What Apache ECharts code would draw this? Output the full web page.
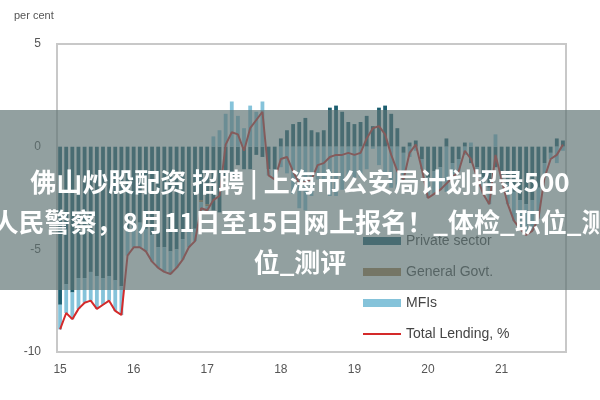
<!DOCTYPE html>
<html><head><meta charset="utf-8">
<script src="https://cdn.jsdelivr.net/npm/echarts@6/dist/echarts.min.js"></script>
<style>html,body{margin:0;padding:0;background:#fff}#c{width:600px;height:400px}</style>
</head><body><div id="c"></div>
<script>
const yearLabels = ['15','16','17','18','19','20','21'];
const total = [-8.9,-8.1,-8.4,-7.9,-7.6,-7.5,-7.9,-7.7,-7.5,-8.0,-8.2,-5.3,
 -4.9,-4.9,-5.1,-5.6,-5.9,-6.1,-6.2,-5.9,-5.5,-4.9,-4.6,-3.0,
 -3.1,-2.6,-2.4,0.1,0.7,0.6,-0.2,0.9,1.3,1.7,-1.4,-1.6,
 -0.6,-0.5,-1.2,-1.8,-1.7,-1.6,-0.9,-0.8,-0.5,-0.4,-0.4,-0.3,
 -0.4,-0.3,0.4,0.9,1.0,0.6,-0.4,-1.2,-1.6,
 -0.3,0.1,-1.1,-2.5,-2.3,-2.1,-1.8,-1.5,-1.2,-0.2,-0.6,-1.5,-2.3,-2.8,-0.4,-1.6,-2.8,-3.6,-4.0,-4.3,-4.1,-3.5,-1.5,-0.6,-0.4,0.1];
const privateSector = [-7.7,-6.7,-7.1,-6.4,-6.4,-6.1,-6.3,-6.4,-6.3,-6.5,-6.8,-4.0,
 -3.9,-3.7,-4.0,-4.3,-4.9,-4.9,-5.1,-5.0,-4.5,-4.1,-4.0,-2.6,
 -2.8,-3.1,-3.2,-1.5,-1.5,-0.9,-1.1,-1.1,-0.4,-0.5,-1.1,-1.1,
 0.4,0.8,1.1,1.2,1.4,0.8,0.7,0.8,1.9,2.0,1.7,1.2,
 1.1,1.2,1.5,1.0,1.9,2.0,1.6,0.9,-0.3,
 0.2,0.3,-0.6,-1.5,-1.2,-1.0,0.4,-0.8,-0.6,0.2,-0.8,-1.0,-1.5,-2.0,-1.0,-1.2,-1.8,-2.2,-2.6,-2.8,-2.6,-2.0,-0.8,-0.3,0.4,0.3];
const generalGovt = [0,0,0,0,0,0,0,0,0,0,0,0, 0,0,0,0,0,0,0,0,0,0,0,-0.1,
 -0.1,0,0,0,0,0,0,0,0,0,0,0, 0,0,0,0,0,0,0,0,0,0,0,0, 0,0,0,0,0,0,0,0,0,
 0,0,0,0,0,0,0,0,0,0,0,0,0,0,0,0,0,0,0,0,0,0,0,0,0,0];
const mfis = [-1.2,-1.4,-1.3,-1.5,-1.2,-1.4,-1.6,-1.3,-1.2,-1.5,-1.4,-1.3,
 -1.0,-1.2,-1.1,-1.3,-1.0,-1.2,-1.1,-0.9,-1.0,-0.8,-0.6,-0.4,
 -0.3,0.5,0.8,1.6,2.2,1.5,0.9,2.0,1.7,2.2,-0.3,-0.5,
 -1.0,-1.3,-2.3,-3.0,-3.1,-2.4,-1.6,-1.6,-2.4,-2.4,-2.1,-1.5,
 -1.5,-1.5,-1.1,-0.1,-0.9,-1.4,-2.0,-2.1,-1.3,
 -0.5,-0.2,-0.5,-1.0,-1.1,-1.1,-2.2,-0.7,-0.6,-0.4,0.2,-0.5,-0.8,-0.8,0.6,-0.4,-1.0,-1.4,-1.4,-1.5,-1.5,-1.5,-0.7,-0.3,-0.8,-0.2];
const months = total.map((v,i)=>String(i));
const chart = echarts.init(document.getElementById('c'));
const font = 'Liberation Sans';
const cjk = 'Noto Sans CJK SC';
chart.setOption({
  animation:false,
  textStyle:{fontFamily:font},
  grid:{left:57,right:34,top:44,bottom:48,show:true,borderColor:'#c8c8c8',borderWidth:2},
  xAxis:{type:'category',data:months,axisLine:{show:false},axisTick:{show:false},
    axisLabel:{color:'#555',fontSize:12,margin:12,interval:(i)=>i%12===0,formatter:(v)=>yearLabels[Number(v)/12]}},
  yAxis:{type:'value',min:-10,max:5,interval:5,splitLine:{show:false},axisLine:{show:false},axisTick:{show:false},
    axisLabel:{color:'#555',fontSize:12,margin:16}},
  legend:{orient:'vertical',left:358,top:229,itemGap:17,itemWidth:38,itemHeight:8,
    textStyle:{color:'#444',fontSize:14,fontFamily:font},
    data:[{name:'Private sector',icon:'rect'},{name:'General Govt.',icon:'rect'},{name:'MFIs',icon:'rect'},{name:'Total Lending, %',icon:'path://M0,4L38,4L38,6L0,6Z'}]},
  graphic:[
    {type:'text',left:14,top:10,style:{text:'per cent',fill:'#555',fontSize:11,fontFamily:font}},
    {type:'rect',shape:{x:0,y:110,width:600,height:180},style:{fill:'rgba(95,115,115,0.68)'},z:100},
    {type:'text',x:300,y:182,style:{text:'佛山炒股配资 招聘 | 上海市公安局计划招录500',fill:'#fff',fontSize:26,fontWeight:'bold',fontFamily:cjk,align:'center',verticalAlign:'middle'},z:101},
    {type:'text',x:300,y:222,style:{text:'人民警察，8月11日至15日网上报名！_体检_职位_测',fill:'#fff',fontSize:26,fontWeight:'bold',fontFamily:cjk,align:'center',verticalAlign:'middle'},z:101},
    {type:'text',x:300,y:262,style:{text:'位_测评',fill:'#fff',fontSize:26,fontWeight:'bold',fontFamily:cjk,align:'center',verticalAlign:'middle'},z:101}
  ],
  series:[
    {name:'Private sector',type:'bar',stack:'s',data:privateSector,barWidth:'62%',itemStyle:{color:'#1d5f70'}},
    {name:'General Govt.',type:'bar',stack:'s',data:generalGovt,itemStyle:{color:'#a57c4c'}},
    {name:'MFIs',type:'bar',stack:'s',data:mfis,itemStyle:{color:'#85c3da'}},
    {name:'Total Lending, %',type:'line',data:total,symbol:'none',lineStyle:{color:'#d42a2a',width:2},itemStyle:{color:'#d42a2a'},z:5}
  ]
});
</script></body></html>
